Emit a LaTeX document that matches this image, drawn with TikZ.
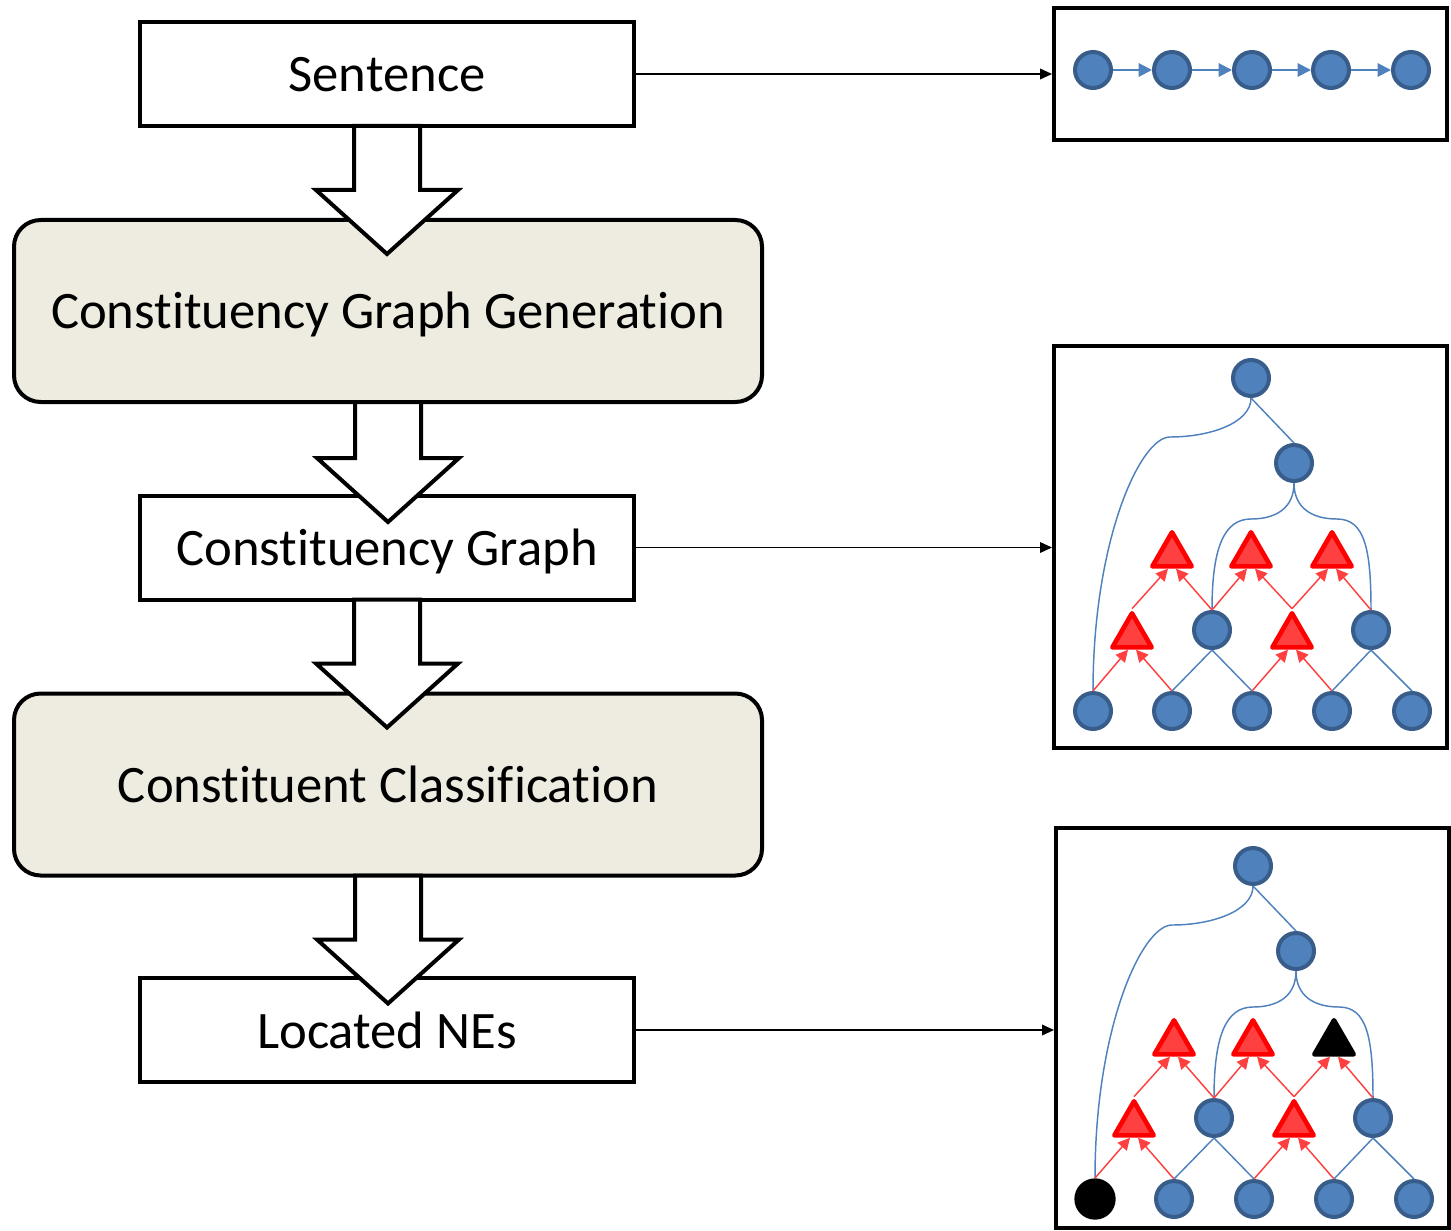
\documentclass[tikz,border=0pt]{standalone}
\usepackage{fontspec}
\setmainfont{Carlito}[Ligatures=NoCommon]
\usetikzlibrary{shapes.geometric,arrows.meta,calc}
\definecolor{nodeblue}{RGB}{79,129,189}
\definecolor{nodeborder}{RGB}{56,93,138}
\definecolor{boxtan}{RGB}{238,236,225}
\definecolor{trired}{RGB}{255,64,64}
\tikzset{
  bigtext/.style={font=\fontsize{39.5}{47}\selectfont, text height=30pt, text depth=3pt},
  stepbox/.style={draw, line width=3pt, outer sep=0pt, inner sep=0pt, minimum width=370.5pt, minimum height=78pt, bigtext},
  procbox/.style={draw, line width=3pt, outer sep=0pt, inner sep=0pt, fill=boxtan, rounded corners=20pt, minimum width=561pt, minimum height=136.5pt, bigtext},
  panel/.style={draw, line width=3pt, inner sep=0pt, minimum width=294.75pt},
  gnode/.style={circle, fill=nodeblue, draw=nodeborder, line width=3pt, minimum size=27pt, inner sep=0pt},
  blacknode/.style={circle, fill=black, minimum size=31pt, inner sep=0pt},
  rtri/.style={regular polygon, regular polygon sides=3, fill=trired, draw=red, line width=3.5pt, line join=round, minimum size=34pt, inner sep=0pt},
  btri/.style={rtri, fill=black, draw=black},
  bedge/.style={nodeblue, line width=1.1pt},
  redge/.style={trired, line width=1.1pt, -{Triangle[length=9pt,width=9pt]}},
  chain/.style={nodeblue, line width=1.5pt, -{Triangle[length=10pt,width=10pt]}},
  link/.style={line width=1.1pt, -{Triangle[length=9pt,width=8pt]}},
  barrowstyle/.style={draw, fill=white, line width=3pt, line join=miter},
}
\newcommand\blockarr[2]{%
  \draw[barrowstyle] ($(#1.south)+(-33,0)$) -- ++(0,#2-64) -- ++(-38,0)
    -- ($(#1.south)+(0,#2)$) -- ($(#1.south)+(71,#2-64)$) -- ++(-38,0)
    -- ($(#1.south)+(33,0)$) -- cycle;}
\newcommand\cgraph[4]{%
\begin{scope}[shift={(#2)}]
  \node[gnode] (#1root) at (1251,378) {};
  \node[gnode] (#1sec) at (1294,463) {};
  \node[gnode] (#1ml) at (1212,630) {};
  \node[gnode] (#1mr) at (1371,630) {};
  \node[#3] (#1l1) at (1093,711) {};
  \node[gnode] (#1l2) at (1172,711) {};
  \node[gnode] (#1l3) at (1252,711) {};
  \node[gnode] (#1l4) at (1332,711) {};
  \node[gnode] (#1l5) at (1412,711) {};
  \node[rtri] (#1m1) at (1132,636) {};
  \node[rtri] (#1m2) at (1292,636) {};
  \node[rtri] (#1t1) at (1172,555) {};
  \node[rtri] (#1t2) at (1251,555) {};
  \node[#4] (#1t3) at (1332,555) {};
  \draw[bedge] (#1root.south) -- (#1sec.north);
  \draw[bedge] (#1root.south) .. controls +(0,25) and +(40,0) .. (1170,437)
     .. controls +(-30,0) and +(0,-150) .. (#1l1.north);
  \draw[bedge] (#1sec.south) .. controls +(0,25) and +(25,0) .. (1251,519)
     .. controls +(-28,0) and +(0,-60) .. (#1ml.north);
  \draw[bedge] (#1sec.south) .. controls +(0,25) and +(-25,0) .. (1337,519)
     .. controls +(28,0) and +(0,-60) .. (#1mr.north);
  \draw[bedge] (#1ml.south) -- (#1l2.north);
  \draw[bedge] (#1ml.south) -- (#1l3.north);
  \draw[bedge] (#1mr.south) -- (#1l4.north);
  \draw[bedge] (#1mr.south) -- (#1l5.north);
  \draw[redge] (#1l1.north) -- ([xshift=-3pt]#1m1.south);
  \draw[redge] (#1l2.north) -- ([xshift=3pt]#1m1.south);
  \draw[redge] (#1m1.corner 1) -- ([xshift=-3pt]#1t1.south);
  \draw[redge] (#1ml.north) -- ([xshift=3pt]#1t1.south);
  \draw[redge] (#1ml.north) -- ([xshift=-3pt]#1t2.south);
  \draw[redge] (#1m2.corner 1) -- ([xshift=3pt]#1t2.south);
  \draw[redge] (#1m2.corner 1) -- ([xshift=-3pt]#1t3.south);
  \draw[redge] (#1mr.north) -- ([xshift=3pt]#1t3.south);
  \draw[redge] (#1l3.north) -- ([xshift=-3pt]#1m2.south);
  \draw[redge] (#1l4.north) -- ([xshift=3pt]#1m2.south);
\end{scope}}
\begin{document}
\begin{tikzpicture}[x=0.75pt, y=-0.75pt]
\useasboundingbox (0,0) rectangle (1451,1230);
% left flow
\node[stepbox] (sent) at (387,74) {Sentence};
\node[procbox] (cgg) at (388,311) {Constituency Graph Generation};
\node[stepbox] (cg) at (387,547.5) {Constituency Graph};
\node[procbox] (cc) at (388,784.5) {Constituent Classification};
\node[stepbox] (ne) at (387,1030) {Located NEs};
\blockarr{sent}{128}
\blockarr{cgg}{120}
\blockarr{cg}{128}
\blockarr{cc}{128}
% right panels
\node[panel, minimum height=99pt] (pA) at (1250.5,74) {};
\node[panel, minimum height=301.5pt] (pB) at (1250.5,547) {};
\node[panel, minimum height=300pt] (pC) at (1252.5,1028) {};
% chain
\node[gnode] (a1) at (1093,70) {};
\node[gnode] (a2) at (1172,70) {};
\node[gnode] (a3) at (1252,70) {};
\node[gnode] (a4) at (1331,70) {};
\node[gnode] (a5) at (1411,70) {};
\draw[chain] (a1) -- (a2);
\draw[chain] (a2) -- (a3);
\draw[chain] (a3) -- (a4);
\draw[chain] (a4) -- (a5);
% graphs
\cgraph{b}{0,0}{gnode}{rtri}
\cgraph{c}{2,488}{blacknode}{btri}
% connectors
\draw[link] (sent.east) -- (sent.east -| pA.west);
\draw[link] (cg.east) -- (cg.east -| pB.west);
\draw[link] (ne.east) -- (ne.east -| pC.west);
\end{tikzpicture}
\end{document}
